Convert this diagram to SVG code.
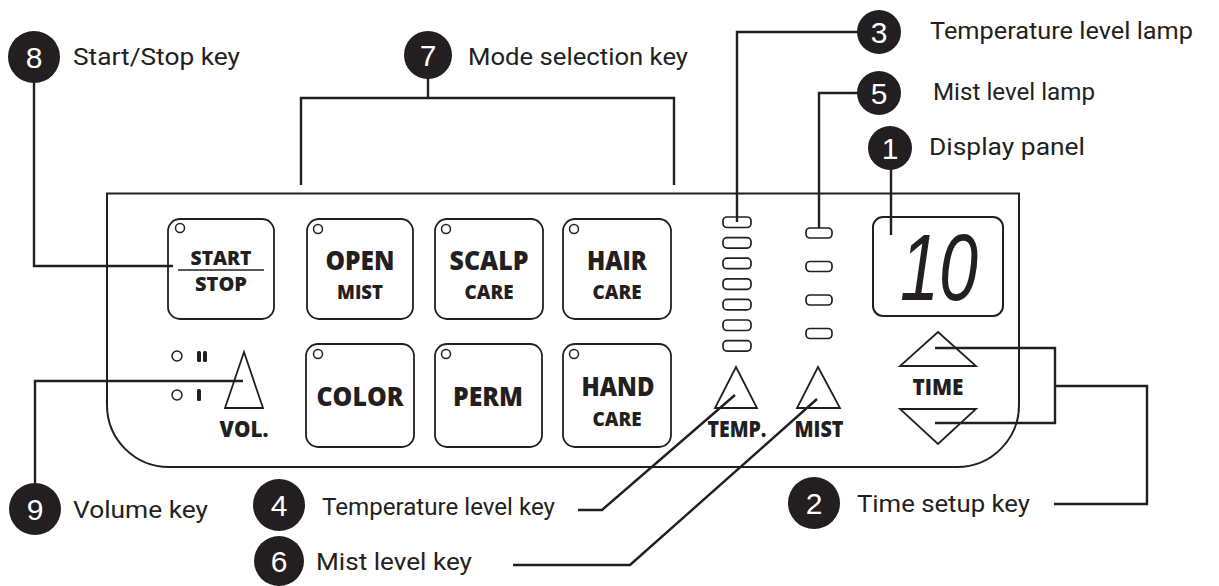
<svg xmlns="http://www.w3.org/2000/svg" width="1219" height="586" viewBox="0 0 1219 586">
<style>
.ln{stroke:#231f20;stroke-width:2.4;fill:none}
.ol{stroke:#231f20;stroke-width:2;fill:none}
.key{stroke:#231f20;stroke-width:1.8;fill:#fff}
.led{stroke:#231f20;stroke-width:1.5;fill:#fff}
.lamp{stroke:#231f20;stroke-width:1.7;fill:none}
.bd{fill:#231f20}
.bn{fill:#fff;font-family:"Liberation Sans",Arial,sans-serif;font-size:30px;text-anchor:middle}
.lb{fill:#231f20;font-family:Roboto,"Liberation Sans",Arial,sans-serif;font-size:24px}
.kt{fill:#231f20;font-family:"Open Sans","Liberation Sans",sans-serif;font-weight:800;text-anchor:middle}
.big{font-size:26px}
.sm{font-size:19px}
.tri{stroke:#231f20;stroke-width:1.8;fill:#fff;stroke-linejoin:miter}
</style>
<rect width="1219" height="586" fill="#fff"/>

<g id="panel">
  <path class="ol" d="M107,193.5 H1019 V405 A62,62 0 0 1 957,467 H169 A62,62 0 0 1 107,405 Z"/>
</g>

<g id="start-stop">
  <rect class="key" x="168" y="219" width="106" height="100" rx="12"/>
  <circle class="led" cx="180" cy="228" r="4.5"/>
  <text class="kt sm" x="221" y="265" textLength="61" lengthAdjust="spacingAndGlyphs">START</text>
  <line x1="178" y1="270" x2="264" y2="270" stroke="#231f20" stroke-width="1.6"/>
  <text class="kt sm" x="221" y="291" textLength="52" lengthAdjust="spacingAndGlyphs">STOP</text>
</g>

<g id="open-mist">
  <rect class="key" x="307" y="219" width="106" height="100" rx="12"/>
  <circle class="led" cx="318" cy="229" r="4.5"/>
  <text class="kt big" x="360" y="270" textLength="69" lengthAdjust="spacingAndGlyphs">OPEN</text>
  <text class="kt sm" x="360" y="299" textLength="46" lengthAdjust="spacingAndGlyphs">MIST</text>
</g>
<g id="scalp-care">
  <rect class="key" x="435" y="219" width="108" height="100" rx="12"/>
  <circle class="led" cx="446" cy="229" r="4.5"/>
  <text class="kt big" x="489" y="270" textLength="79" lengthAdjust="spacingAndGlyphs">SCALP</text>
  <text class="kt sm" x="489" y="299" textLength="49" lengthAdjust="spacingAndGlyphs">CARE</text>
</g>
<g id="hair-care">
  <rect class="key" x="563" y="219" width="108" height="100" rx="12"/>
  <circle class="led" cx="574" cy="229" r="4.5"/>
  <text class="kt big" x="617" y="270" textLength="60" lengthAdjust="spacingAndGlyphs">HAIR</text>
  <text class="kt sm" x="617" y="299" textLength="49" lengthAdjust="spacingAndGlyphs">CARE</text>
</g>
<g id="color">
  <rect class="key" x="306" y="344" width="108" height="103" rx="12"/>
  <circle class="led" cx="318" cy="354" r="4.5"/>
  <text class="kt big" x="360" y="406" textLength="87" lengthAdjust="spacingAndGlyphs">COLOR</text>
</g>
<g id="perm">
  <rect class="key" x="435" y="344" width="107" height="103" rx="12"/>
  <circle class="led" cx="446" cy="354" r="4.5"/>
  <text class="kt big" x="488" y="406" textLength="70" lengthAdjust="spacingAndGlyphs">PERM</text>
</g>
<g id="hand-care">
  <rect class="key" x="563" y="344" width="108" height="103" rx="12"/>
  <circle class="led" cx="574" cy="354" r="4.5"/>
  <text class="kt big" x="618" y="396" textLength="73" lengthAdjust="spacingAndGlyphs">HAND</text>
  <text class="kt sm" x="617" y="426" textLength="49" lengthAdjust="spacingAndGlyphs">CARE</text>
</g>

<g id="volume">
  <circle class="led" cx="177" cy="356" r="5"/>
  <rect x="197" y="351" width="4" height="11" rx="1.5" class="bd"/>
  <rect x="203" y="351" width="4" height="11" rx="1.5" class="bd"/>
  <circle class="led" cx="177" cy="395" r="5"/>
  <rect x="197" y="389" width="4" height="12" rx="1.5" class="bd"/>
  <polygon class="tri" points="244,352 263,408 225,408"/>
  <text class="kt" font-size="22" x="244" y="437" textLength="49" lengthAdjust="spacingAndGlyphs">VOL.</text>
</g>

<g id="temp-lamps">
  <rect class="lamp" x="723" y="217" width="28" height="10.5" rx="4"/>
  <rect class="lamp" x="723" y="237.6" width="28" height="10.5" rx="4"/>
  <rect class="lamp" x="723" y="258.2" width="28" height="10.5" rx="4"/>
  <rect class="lamp" x="723" y="278.8" width="28" height="10.5" rx="4"/>
  <rect class="lamp" x="723" y="299.4" width="28" height="10.5" rx="4"/>
  <rect class="lamp" x="723" y="320" width="28" height="10.5" rx="4"/>
  <rect class="lamp" x="723" y="340.6" width="28" height="10.5" rx="4"/>
</g>
<g id="temp-key">
  <polygon class="tri" points="736,367 757,408 715,408"/>
  <text class="kt" font-size="23" x="737" y="437" textLength="59" lengthAdjust="spacingAndGlyphs">TEMP.</text>
</g>

<g id="mist-lamps">
  <rect class="lamp" x="806" y="228" width="26" height="10" rx="4"/>
  <rect class="lamp" x="806" y="261.5" width="26" height="10" rx="4"/>
  <rect class="lamp" x="806" y="295" width="26" height="10" rx="4"/>
  <rect class="lamp" x="806" y="328.5" width="26" height="10" rx="4"/>
</g>
<g id="mist-key">
  <polygon class="tri" points="818,367 840,408 797,408"/>
  <text class="kt" font-size="23" x="819" y="437" textLength="49" lengthAdjust="spacingAndGlyphs">MIST</text>
</g>

<g id="display">
  <rect class="ol" x="873" y="217" width="130" height="99" rx="10"/>
  <text x="900" y="300" font-family="Liberation Sans, Arial, sans-serif" font-style="italic" font-size="94" fill="#231f20" textLength="78" lengthAdjust="spacingAndGlyphs">10</text>
</g>

<g id="time-key">
  <polygon class="tri" points="938,332 976,366 900,366"/>
  <text class="kt" font-size="22" x="938" y="395" textLength="51" lengthAdjust="spacingAndGlyphs">TIME</text>
  <polygon class="tri" points="900,409 976,409 938,444"/>
</g>

<g id="connectors">
  <path class="ln" d="M34,83 V266 H173"/>
  <path class="ln" d="M428,77 V98 M301,185 V98 H674 V185"/>
  <path class="ln" d="M858,32 H737 V222"/>
  <path class="ln" d="M858,93 H819 V228"/>
  <path class="ln" d="M891,168 V235"/>
  <path class="ln" d="M35,483 V381 H243"/>
  <path class="ln" d="M578,510 H602 L735,395"/>
  <path class="ln" d="M513,565 H630 L817,399"/>
  <path class="ln" d="M935,348 H1055 V423 H935 M1055,386 H1147 V504 H1054"/>
</g>

<g id="callout-8">
  <circle class="bd" cx="34" cy="57" r="26"/>
  <text class="bn" x="34" y="68">8</text>
  <text class="lb" x="73" y="65" textLength="167" lengthAdjust="spacingAndGlyphs">Start/Stop key</text>
</g>
<g id="callout-7">
  <circle class="bd" cx="428" cy="55" r="24"/>
  <text class="bn" x="428" y="66">7</text>
  <text class="lb" x="468" y="65" textLength="220" lengthAdjust="spacingAndGlyphs">Mode selection key</text>
</g>
<g id="callout-3">
  <circle class="bd" cx="879" cy="32" r="22"/>
  <text class="bn" x="879" y="43">3</text>
  <text class="lb" x="930" y="39" textLength="263" lengthAdjust="spacingAndGlyphs">Temperature level lamp</text>
</g>
<g id="callout-5">
  <circle class="bd" cx="879" cy="93" r="22"/>
  <text class="bn" x="879" y="104">5</text>
  <text class="lb" x="933" y="100" textLength="162" lengthAdjust="spacingAndGlyphs">Mist level lamp</text>
</g>
<g id="callout-1">
  <circle class="bd" cx="890" cy="148" r="22"/>
  <text class="bn" x="890" y="159">1</text>
  <text class="lb" x="929" y="155" textLength="156" lengthAdjust="spacingAndGlyphs">Display panel</text>
</g>
<g id="callout-9">
  <circle class="bd" cx="35" cy="509" r="26"/>
  <text class="bn" x="35" y="520">9</text>
  <text class="lb" x="73" y="518" textLength="135" lengthAdjust="spacingAndGlyphs">Volume key</text>
</g>
<g id="callout-4">
  <circle class="bd" cx="279" cy="505" r="26"/>
  <text class="bn" x="279" y="516">4</text>
  <text class="lb" x="322" y="515" textLength="233" lengthAdjust="spacingAndGlyphs">Temperature level key</text>
</g>
<g id="callout-6">
  <circle class="bd" cx="279" cy="561" r="25"/>
  <text class="bn" x="279" y="572">6</text>
  <text class="lb" x="316" y="570" textLength="156" lengthAdjust="spacingAndGlyphs">Mist level key</text>
</g>
<g id="callout-2">
  <circle class="bd" cx="814" cy="503" r="26"/>
  <text class="bn" x="814" y="514">2</text>
  <text class="lb" x="857" y="512" textLength="173" lengthAdjust="spacingAndGlyphs">Time setup key</text>
</g>
</svg>
